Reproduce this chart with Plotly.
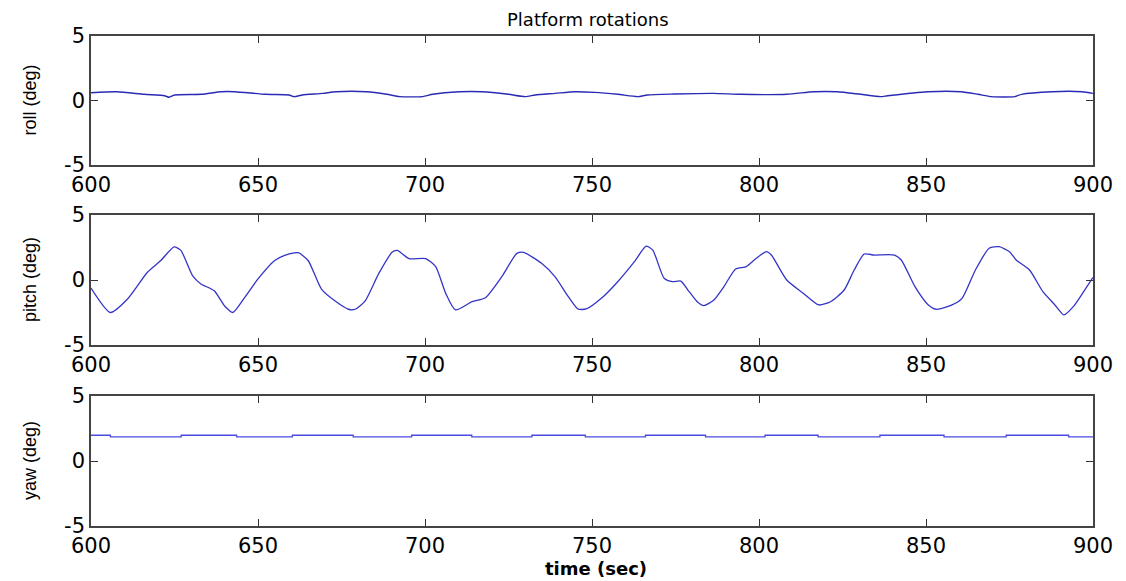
import plotly.graph_objects as go
from plotly.subplots import make_subplots

# ---- data ----
roll_t = [600, 607.8, 615.9, 622, 623.4, 625, 633, 639, 643, 652.2, 659.3, 660.8, 663.3, 669.4, 673.4,
          682.5, 688.6, 692.4, 699.3, 702.3, 710.2, 717.1, 725, 730, 733, 738.9, 744.9, 750.8, 757.7,
          763.7, 766.6, 774.6, 786.4, 794.4, 808.3, 816.4, 823.4, 830.4, 836.4, 838.5, 850.5, 860.5,
          865.6, 869.6, 876.6, 878.6, 887.7, 896.7, 900]
roll_v = [0.6, 0.68, 0.48, 0.37, 0.25, 0.43, 0.48, 0.68, 0.68, 0.48, 0.43, 0.3, 0.43, 0.55, 0.68,
          0.68, 0.48, 0.3, 0.3, 0.48, 0.68, 0.68, 0.48, 0.3, 0.43, 0.55, 0.68, 0.63, 0.48,
          0.3, 0.43, 0.5, 0.55, 0.48, 0.48, 0.68, 0.68, 0.48, 0.3, 0.37, 0.68, 0.68,
          0.48, 0.3, 0.3, 0.48, 0.68, 0.68, 0.55]

pitch_t = [600, 605.8, 610.8, 616.9, 620.9, 624.9, 626.9, 630.4, 632.9, 636.9, 640, 642.5, 646, 650,
           655, 658, 662, 665, 669, 673, 677.1, 679.1, 682.1, 686.1, 690.2, 691.7, 695.2, 700.2,
           703.2, 706.2, 709.1, 714.1, 718.1, 723, 727.5, 729.5, 734.9, 738.9, 742.9, 745.8, 748.3,
           752.8, 757.7, 762.7, 766.2, 768.2, 771.6, 774.1, 776.6, 779.1, 781.5, 783.5, 786.5, 789.5,
           793, 796.2, 799.2, 802.2, 803.7, 808.3, 813.3, 817.9, 821.4, 825.5, 828.5, 831.5, 834.5,
           840.6, 842.6, 846.7, 850.7, 853.2, 857.8, 860.8, 864.8, 868.9, 871.9, 875, 877, 881, 885,
           888.6, 891.3, 894.1, 897.2, 900]
pitch_v = [-0.62, -2.5, -1.5, 0.6, 1.5, 2.54, 2.28, 0.34, -0.3, -0.83, -2.0, -2.5, -1.35, 0.08,
           1.5, 1.9, 2.1, 1.5, -0.7, -1.6, -2.25, -2.25, -1.6, 0.47, 2.15, 2.28, 1.65, 1.65,
           1.03, -1.03, -2.3, -1.67, -1.36, 0.26, 2.05, 2.13, 1.28, 0.26, -1.28, -2.23, -2.23,
           -1.41, -0.13, 1.41, 2.6, 2.3, 0.13, -0.13, -0.08, -0.9, -1.67, -1.97, -1.54, -0.51,
           0.85, 1.03, 1.67, 2.18, 1.92, 0.0, -1.03, -1.92, -1.67, -0.77, 0.77, 2.0, 1.92,
           1.92, 1.54, -0.51, -1.92, -2.26, -1.92, -1.41, 0.77, 2.44, 2.56, 2.18, 1.54, 0.77, -0.9,
           -1.92, -2.69, -2.05, -0.9, 0.2]

yaw_t = [600, 605.8, 627, 643.6, 660.3, 678.5, 696, 714, 732, 748, 766, 784, 801.8, 817.7, 836.2,
         855.4, 874, 892.7, 900]
yaw_v = [1.98, 1.86, 1.98, 1.86, 1.98, 1.86, 1.98, 1.86, 1.98, 1.86, 1.98, 1.86, 1.98, 1.86, 1.98,
         1.86, 1.98, 1.86, 1.86]

x_ticks = [600, 650, 700, 750, 800, 850, 900]
y_ticks = [-5, 0, 5]
y_titles = ["roll (deg)", "pitch (deg)", "yaw (deg)"]
title_text = "Platform rotations"
x_title = "time (sec)"

W, H = 1126, 581
OFF = 8            # page body margin in the browser
L, R = 91 - OFF, 1126 - 1093 + OFF
PW = W - L - R


def py(px):
    return 1 - (px - OFF) / H


def pxx(px):
    return (px - OFF - L) / PW


line_color = "#3434c8"

fig = make_subplots(rows=3, cols=1)
fig.add_trace(go.Scatter(x=roll_t, y=roll_v, mode="lines",
                         line=dict(color="#2a2ab4", width=1.4, shape="spline", smoothing=0.6)), row=1, col=1)
fig.add_trace(go.Scatter(x=pitch_t, y=pitch_v, mode="lines",
                         line=dict(color=line_color, width=1.3, shape="spline", smoothing=0.6)), row=2, col=1)
fig.add_trace(go.Scatter(x=yaw_t, y=yaw_v, mode="lines",
                         line=dict(color="#4a4ae0", width=1.3, shape="hv")), row=3, col=1)

boxes = [(36, 165), (215, 345), (396, 526)]
tick_font = dict(family="DejaVu Sans", size=21, color="black")
for i, (top, bot) in enumerate(boxes, start=1):
    fig.update_yaxes(row=i, col=1, domain=[py(bot), py(top)], range=[-5, 5], tickvals=y_ticks,
                     ticktext=[str(v) for v in y_ticks], ticks="inside", ticklen=7,
                     tickcolor="#333", showline=True, linecolor="#444", linewidth=1.5,
                     mirror="allticks", showgrid=False, zeroline=False,
                     tickfont=tick_font, automargin=False)
    fig.update_xaxes(row=i, col=1, domain=[0, 1], range=[600, 900], tickvals=x_ticks,
                     ticks="inside", ticklen=7, tickcolor="#333", showline=True,
                     linecolor="#444", linewidth=1.5, mirror="allticks", showgrid=False,
                     zeroline=False, tickfont=tick_font, showticklabels=True,
                     automargin=False)
    fig.add_annotation(text=y_titles[i - 1], xref="paper", yref="paper",
                       x=pxx(30), y=py((top + bot) / 2), textangle=-90,
                       showarrow=False, xanchor="center", yanchor="middle",
                       font=dict(family="Liberation Sans", size=18, color="black"))

fig.add_annotation(text=title_text, xref="paper", yref="paper", x=pxx(588),
                   y=py(19), showarrow=False, xanchor="center", yanchor="middle",
                   font=dict(family="DejaVu Sans", size=18, color="black"))
fig.add_annotation(text="<b>" + x_title + "</b>", xref="paper", yref="paper",
                   x=pxx(596), y=py(568), showarrow=False,
                   xanchor="center", yanchor="middle",
                   font=dict(family="DejaVu Sans", size=18, color="black"))

fig.update_layout(width=W, height=H, margin=dict(l=L, r=R, t=0, b=0, autoexpand=False),
                  plot_bgcolor="white", paper_bgcolor="white", showlegend=False)

fig.write_html("out.html")
